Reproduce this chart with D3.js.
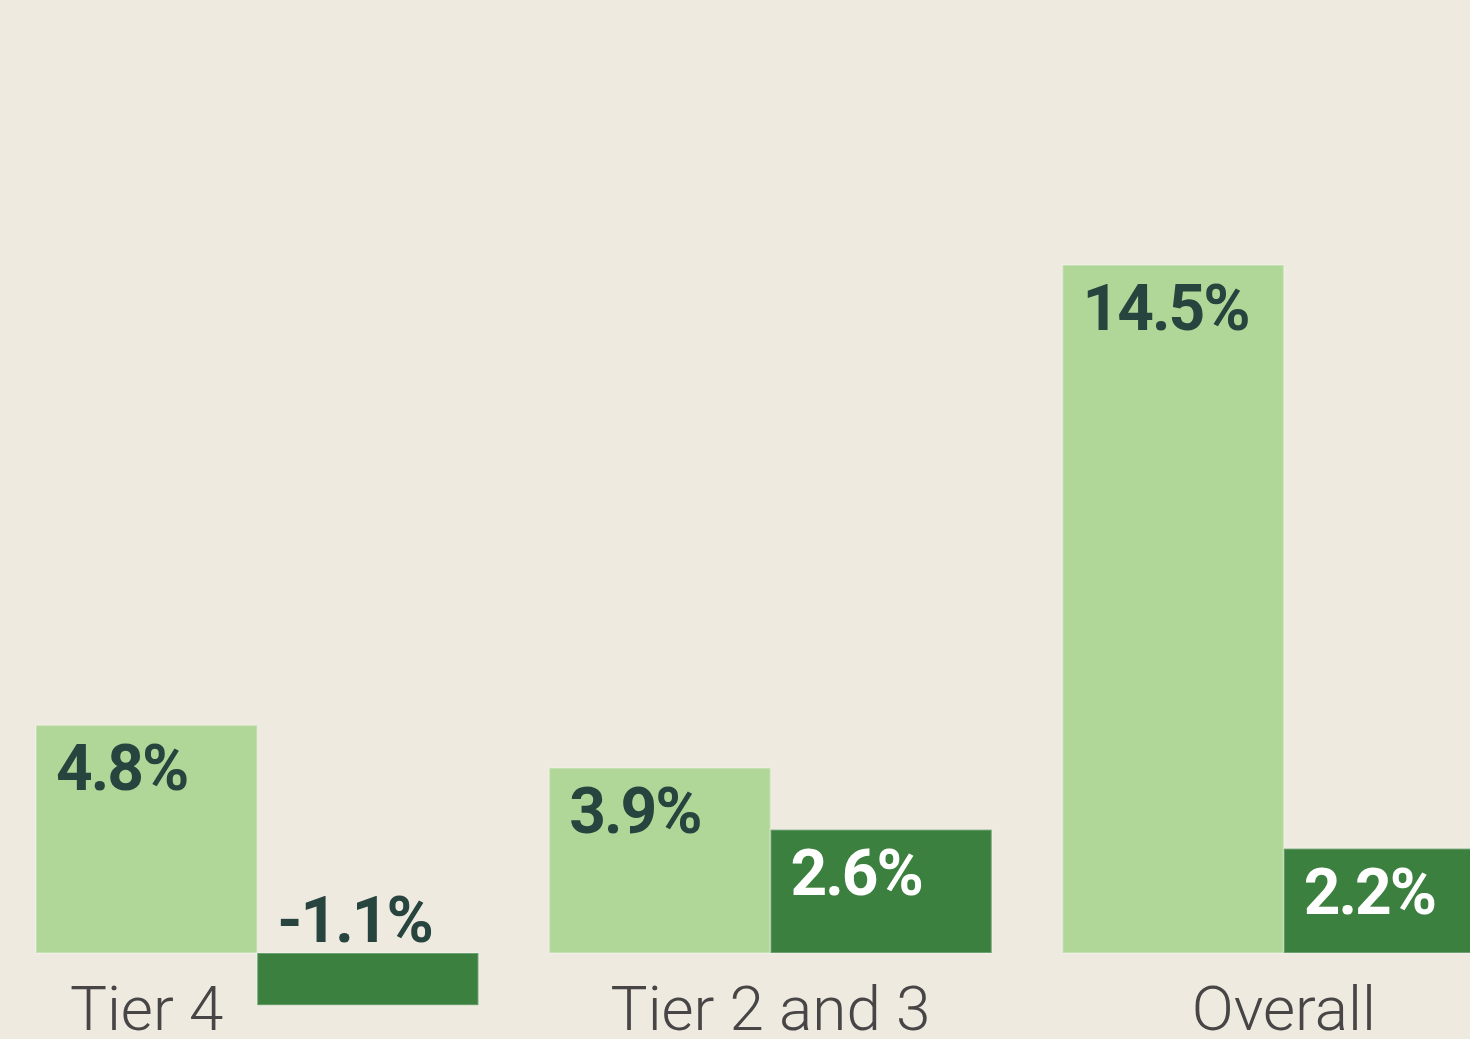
<!DOCTYPE html>
<html>
<head>
<meta charset="utf-8">
<script src="https://cdn.jsdelivr.net/npm/d3@7"></script>
<style>
  html, body { margin: 0; padding: 0; background: #EEEAE0; overflow: hidden; }
  svg { display: block; }
</style>
</head>
<body>
<svg id="chart" width="1470" height="1039"></svg>
<script>
const categories = ["Tier 4", "Tier 2 and 3", "Overall"];
const seriesKeys = ["first", "second"];
const firstValues = [4.8, 3.9, 14.5];
const secondValues = [-1.1, 2.6, 2.2];
const valueLabels = [["4.8%", "-1.1%"], ["3.9%", "2.6%"], ["14.5%", "2.2%"]];

const W = 1470, H = 1039;
const svg = d3.select("#chart");
svg.append("rect").attr("width", W).attr("height", H).attr("fill", "#EEEAE0");

const colors = { first: "#B1D798", second: "#3C803F" };
const labelColors = { first: "#27443F", second: "#FFFFFF" };

const x0 = d3.scaleBand().domain(categories).range([36, 1505]).paddingInner(0.138).paddingOuter(0);
const x1 = d3.scaleBand().domain(seriesKeys).range([0, x0.bandwidth()]).padding(0);
const y = d3.scaleLinear().domain([0, 14.5]).range([953, 265]);

const data = categories.map((c, i) => ({
  cat: c,
  vals: [
    { key: "first", v: firstValues[i], label: valueLabels[i][0] },
    { key: "second", v: secondValues[i], label: valueLabels[i][1] }
  ]
}));

const g = svg.append("g");
const groups = g.selectAll("g.grp").data(data).join("g")
  .attr("class", "grp")
  .attr("transform", d => `translate(${x0(d.cat)},0)`);

groups.selectAll("rect").data(d => d.vals).join("rect")
  .attr("x", d => x1(d.key))
  .attr("y", d => y(Math.max(0, d.v)))
  .attr("width", x1.bandwidth())
  .attr("height", d => Math.abs(y(d.v) - y(0)))
  .attr("fill", d => colors[d.key])
  .attr("stroke", "rgba(255,255,255,0.25)")
  .attr("stroke-width", 2);

groups.selectAll("text.val").data(d => d.vals).join("text")
  .attr("class", "val")
  .attr("x", d => x1(d.key) + 20)
  .attr("y", d => d.v >= 0 ? y(d.v) + 65 : y(0) - 11)
  .attr("fill", d => d.v >= 0 ? labelColors[d.key] : labelColors.first)
  .attr("font-family", "Roboto, 'Open Sans', sans-serif")
  .attr("font-weight", 700)
  .attr("font-size", 64)
  .attr("letter-spacing", "-2px")
  .text(d => d.label);

groups.append("text")
  .attr("class", "cat")
  .attr("x", d => d.vals[1].v < 0 ? x1("first") + x1.bandwidth() / 2 : x0.bandwidth() / 2)
  .attr("y", 1030)
  .attr("text-anchor", "middle")
  .attr("fill", "#474545")
  .attr("font-family", "Roboto, 'Open Sans', sans-serif")
  .attr("font-weight", 300)
  .attr("font-size", 62)
  .text(d => d.cat);
</script>
</body>
</html>
